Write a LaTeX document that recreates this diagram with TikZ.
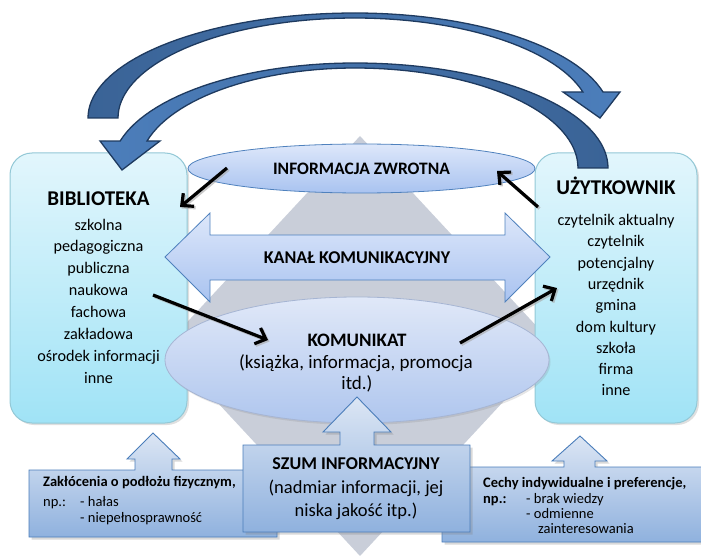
\documentclass[tikz,border=0pt]{standalone}
\usepackage{fontspec}
\setmainfont{Carlito}
\usetikzlibrary{arrows.meta,shadows,shapes.geometric}
\definecolor{cyT}{HTML}{E2F6FC}
\definecolor{cyB}{HTML}{A0E3F6}
\definecolor{cyD}{HTML}{93C8D6}
\definecolor{elT}{HTML}{DDE7FA}
\definecolor{elB}{HTML}{A9C3F0}
\definecolor{elD}{HTML}{4F81BD}
\definecolor{koT}{HTML}{E0E8F8}
\definecolor{koB}{HTML}{AFC6EE}
\definecolor{koD}{HTML}{A6B5D3}
\definecolor{caT}{HTML}{DCE6F4}
\definecolor{caB}{HTML}{8FB1DE}
\definecolor{caD}{HTML}{4A7DBA}
\definecolor{dia}{HTML}{C9CED9}
\definecolor{arD}{HTML}{3A6396}
\definecolor{arL}{HTML}{4C7EBB}
\definecolor{arE}{HTML}{1E3A5F}
\newcommand\fBig{\fontsize{21}{25}\selectfont\bfseries}
\newcommand\fBody{\fontsize{16.2}{20}\selectfont}
\newcommand\fMid{\fontsize{18}{22}\selectfont}
\newcommand\fKom{\fontsize{19}{23}\selectfont}
\newcommand\fSmall{\fontsize{14.5}{17}\selectfont}
\begin{document}
\begin{tikzpicture}[x=1pt,y=-1pt,
  sidebox/.style={draw=cyD, line width=1pt, rounded corners=22pt, top color=cyT, bottom color=cyB,
    drop shadow={shadow xshift=2pt,shadow yshift=-2pt,opacity=0.25}, inner sep=0},
  ellbox/.style={ellipse, draw=elD, line width=0.8pt, top color=elT, bottom color=elB, inner sep=0},
  kombox/.style={ellipse, draw=koD, line width=0.8pt, top color=koT, bottom color=koB, inner sep=0,
    drop shadow={shadow xshift=1.5pt,shadow yshift=-2pt,opacity=0.2}},
  chan/.style={draw=elD, line width=0.8pt, top color=elT, bottom color=elB},
  callout/.style={draw=caD, line width=0.9pt, top color=caT, bottom color=caB,
    drop shadow={shadow xshift=2.5pt,shadow yshift=-2.5pt,opacity=0.3}},
  bigarrow/.style={draw=arE, line width=1.3pt, line join=miter},
  blk/.style={line width=3.2pt, -{Straight Barb[length=9pt,width=17pt]}, black},
  blkshadow/.style={line width=3.2pt, -{Straight Barb[length=9pt,width=17pt]}, black!35, opacity=0.6},
  bigtxt/.style={anchor=base, inner sep=0, font=\fBig},
  bodytxt/.style={anchor=base, inner sep=0, font=\fBody},
  midtxt/.style={inner sep=0, font=\fMid\bfseries},
  komtxt/.style={anchor=base, inner sep=0, font=\fKom},
  szumtxt/.style={anchor=base, inner sep=0, font=\fontsize{18.5}{22}\selectfont},
  smalltxt/.style={anchor=base west, inner sep=0, font=\fSmall}
]
\useasboundingbox (0,0) rectangle (701,556);

% background diamond
\fill[dia] (360,136) -- (555,346) -- (360,556) -- (165,346) -- cycle;

% side boxes
\node[sidebox, minimum width=177, minimum height=270] (bib) at (98.5,288) {};
\node[sidebox, minimum width=162, minimum height=270] (uzy) at (616,288) {};

% feedback ellipse
\node[ellbox, minimum width=347, minimum height=49, font=\fontsize{17.5}{20}\selectfont\bfseries] (zwrot) at (361.5,168.5) {INFORMACJA ZWROTNA};

% channel double arrow
\path[chan] (165,257) -- (210,213) -- (210,235) -- (505,235) -- (505,213) -- (550,257)
  -- (505,302) -- (505,280) -- (210,280) -- (210,302) -- cycle;
\node[midtxt] (kanal) at (357,258) {KANAŁ KOMUNIKACYJNY};

% message ellipse
\node[kombox, minimum width=384, minimum height=126] (kom) at (357,360) {};

% curved arrows
\path[bigarrow, left color=arD, right color=arL]
  (88,118)
  -- plot[domain=180:270,samples=40] ({355+267*cos(\x)},{118+105*sin(\x)})
  -- plot[domain=270:345.7,samples=30] ({355+256*cos(\x)},{118+105*sin(\x)})
  -- (620,92) -- (600,118) -- (563,92)
  -- plot[domain=344.9:270,samples=30] ({355+236*cos(\x)},{118+100*sin(\x)})
  -- plot[domain=270:180,samples=40] ({355+237*cos(\x)},{118+100*sin(\x)})
  -- cycle;
\path[bigarrow, left color=arL, right color=arD]
  (608,168)
  -- plot[domain=0:-90,samples=40] ({355+253*cos(\x)},{168+105*sin(\x)})
  -- plot[domain=270:194.9,samples=30] ({355+243*cos(\x)},{168+105*sin(\x)})
  -- (100,141) -- (122,170) -- (160,141)
  -- plot[domain=195.7:270,samples=30] ({355+216*cos(\x)},{168+100*sin(\x)})
  -- plot[domain=-90:0,samples=40] ({355+223*cos(\x)},{168+100*sin(\x)})
  -- cycle;

% bottom callouts
\path[callout] (29,470) -- (135,470) -- (135,459) -- (127,459) -- (153,433) -- (180,459)
  -- (172,459) -- (172,470) -- (277,470) -- (277,537) -- (29,537) -- cycle;
\path[callout] (442,467) -- (564,467) -- (564,461) -- (552,461) -- (580,436) -- (607,461)
  -- (595,461) -- (595,467) -- (712,467) -- (712,542) -- (442,542) -- cycle;
\path[callout] (243,445) -- (340,445) -- (340,432) -- (323,432) -- (357,397) -- (391,432)
  -- (374,432) -- (374,445) -- (470,445) -- (470,532) -- (243,532) -- cycle;

% texts: BIBLIOTEKA
\node[bigtxt] (bibT) at (98.5,205) {BIBLIOTEKA};
\foreach \t [count=\i] in {szkolna,pedagogiczna,publiczna,naukowa,fachowa,zakładowa,ośrodek informacji,inne}
  \node[bodytxt] (bib\i) at (98.5,{230+21.9*(\i-1)}) {\t};
% UZYTKOWNIK
\node[bigtxt] (uzyT) at (616,194) {UŻYTKOWNIK};
\foreach \t [count=\i] in {czytelnik aktualny,czytelnik,potencjalny,urzędnik,gmina,dom kultury,szkoła,firma,inne}
  \node[bodytxt] (uzy\i) at (616,{225.5+21.3*(\i-1)}) {\t};

% KOMUNIKAT
\node[komtxt, font=\fKom\bfseries] (komT) at (357,346.5) {KOMUNIKAT};
\node[komtxt] (kom2) at (356,368) {(książka, informacja, promocja};
\node[komtxt] (kom3) at (357,389) {itd.)};

% SZUM
\node[szumtxt, font=\fMid\bfseries] (szT) at (356,469) {SZUM INFORMACYJNY};
\node[szumtxt] (sz2) at (356,493) {(nadmiar informacji, jej};
\node[szumtxt] (sz3) at (356,516) {niska jakość itp.)};

% left callout text
\node[smalltxt, font=\fSmall\bfseries] (lz1) at (43,486.5) {Zakłócenia o podłożu fizycznym,};
\node[smalltxt] (lz2) at (43,506.5) {np.:};
\node[smalltxt] (lz3) at (80,506.5) {- hałas};
\node[smalltxt] (lz4) at (80,522.5) {- niepełnosprawność};

% right callout text
\node[smalltxt, font=\fSmall\bfseries] (rc1) at (483,487) {Cechy indywidualne i preferencje,};
\node[smalltxt, font=\fSmall\bfseries] (rc2) at (483,503.5) {np.:};
\node[smalltxt] (rc3) at (526,503.5) {- brak wiedzy};
\node[smalltxt] (rc4) at (526,518.5) {- odmienne};
\node[smalltxt] (rc5) at (538,533.5) {zainteresowania};

% black arrows
\coordinate (a1s) at (227,168); \coordinate (a1e) at (180,207);
\coordinate (a2s) at (538,207); \coordinate (a2e) at (497,171);
\coordinate (a3s) at (153,295); \coordinate (a3e) at (268,340);
\coordinate (a4s) at (460,343); \coordinate (a4e) at (557,288);
\foreach \s/\e in {a1s/a1e,a2s/a2e,a3s/a3e,a4s/a4e}{
  \draw[blkshadow, transform canvas={shift={(1.5pt,-1.5pt)}}] (\s) -- (\e);
  \draw[blk] (\s) -- (\e);
}
\end{tikzpicture}
\end{document}
